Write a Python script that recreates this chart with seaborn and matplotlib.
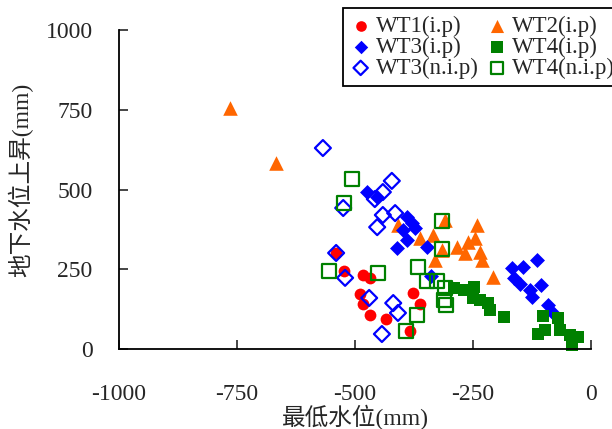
import numpy as np
import pandas as pd
import seaborn as sns
import matplotlib
matplotlib.use("Agg")
import matplotlib.pyplot as plt

# 读图估计的数据点 (最低水位 mm, 地下水位上昇 mm)
wt1_ip_x = [-540, -523, -483, -468, -489, -483, -468, -434, -377, -362, -383]
wt1_ip_y = [301, 245, 232, 223, 172, 141, 107, 94, 176, 141, 56]

wt2_ip_x = [-765, -667, -309, -242, -335, -362, -284, -261, -246, -316, -267,
            -231, -330, -208, -409, -235]
wt2_ip_y = [755, 583, 404, 389, 357, 348, 320, 335, 348, 310, 301,
            279, 279, 226, 389, 304]

wt3_ip_x = [-475, -453, -390, -379, -398, -373, -390, -411, -347, -339,
            -167, -144, -114, -163, -150, -129, -106, -125, -91, -80]
wt3_ip_y = [492, 476, 414, 395, 373, 379, 342, 317, 320, 229,
            254, 257, 279, 223, 204, 185, 201, 163, 138, 113]

wt4_ip_x = [-290, -269, -248, -250, -235, -218, -214, -184, -102, -70, -112,
            -97, -66, -44, -28, -40]
wt4_ip_y = [191, 185, 194, 160, 154, 144, 122, 100, 103, 97, 47,
            60, 60, 44, 38, 13]

wt3_nip_x = [-568, -422, -441, -458, -525, -441, -415, -453, -540, -521, -470,
             -419, -409, -443]
wt3_nip_y = [630, 527, 492, 470, 442, 420, 426, 382, 301, 223, 160,
             144, 113, 47]

wt4_nip_x = [-506, -523, -555, -451, -367, -316, -316, -347, -326, -309, -311,
             -307, -369, -392]
wt4_nip_y = [533, 458, 245, 238, 257, 401, 313, 213, 213, 191, 154,
             138, 107, 56]

serif = ["Liberation Serif", "Noto Sans CJK SC", "DejaVu Sans"]

sns.set_style("ticks")
plt.rcParams["font.family"] = serif
plt.rcParams["axes.unicode_minus"] = False

fig = plt.figure(figsize=(6.12, 4.29), dpi=100)
ax = fig.add_axes([119 / 612, 1 - 349 / 429, 472 / 612, 319 / 429])

# (数据, 标签, 颜色, 标记, 大小, 空心)
series = [
    (wt1_ip_x, wt1_ip_y, "WT1(i.p)", "#FF0000", "o", 72, False),
    (wt2_ip_x, wt2_ip_y, "WT2(i.p)", "#FF6600", "^", 110, False),
    (wt3_ip_x, wt3_ip_y, "WT3(i.p)", "#0000FF", "D", 58, False),
    (wt4_ip_x, wt4_ip_y, "WT4(i.p)", "#008000", "s", 78, False),
    (wt3_nip_x, wt3_nip_y, "WT3(n.i.p)", "#0000FF", "D", 66, True),
    (wt4_nip_x, wt4_nip_y, "WT4(n.i.p)", "#008000", "s", 100, True),
]

handles = {}
for xs, ys, lab, col, mk, size, hollow in series:
    df = pd.DataFrame({"x": xs, "y": ys})
    sns.scatterplot(data=df, x="x", y="y", color=col, marker=mk, s=size,
                    linewidth=0, ax=ax, label=lab, legend=False, clip_on=False)
    coll = ax.collections[-1]
    if hollow:
        coll.set_facecolor("none")
        coll.set_edgecolor(col)
        coll.set_linewidth(1.6)
    handles[lab] = coll

ax.set_xlim(-1000, 0)
ax.set_ylim(0, 1000)
ax.set_xticks([-1000, -750, -500, -250, 0])
ax.set_yticks([0, 250, 500, 750, 1000])
ax.tick_params(direction="in", length=6.5, width=1.2, labelsize=17)
ax.tick_params(axis="x", pad=25)
ax.tick_params(axis="y", pad=19)
for s in ["top", "right"]:
    ax.spines[s].set_visible(False)
for s in ["left", "bottom"]:
    ax.spines[s].set_linewidth(1.3)
    ax.spines[s].set_color("black")

ax.set_xlabel("最低水位(mm)", fontsize=17, family=serif)
ax.set_ylabel("地下水位上昇(mm)", fontsize=17, family=serif)
ax.xaxis.set_label_coords(0.5, -0.175)
ax.yaxis.set_label_coords(-0.182, 0.53)

order = ["WT1(i.p)", "WT3(i.p)", "WT3(n.i.p)", "WT2(i.p)", "WT4(i.p)", "WT4(n.i.p)"]
leg = fig.legend([handles[k] for k in order], order, loc="upper left",
                 bbox_to_anchor=(343 / 612, 1 - 8 / 429), ncol=2,
                 fontsize=16.5, frameon=True, fancybox=False, edgecolor="black",
                 framealpha=1, borderpad=0.32, labelspacing=0.0,
                 handletextpad=0.2, columnspacing=0.35, handlelength=0.9,
                 borderaxespad=0, markerscale=0.9)
leg.get_frame().set_linewidth(1.3)

fig.savefig("out.png", dpi=100)
